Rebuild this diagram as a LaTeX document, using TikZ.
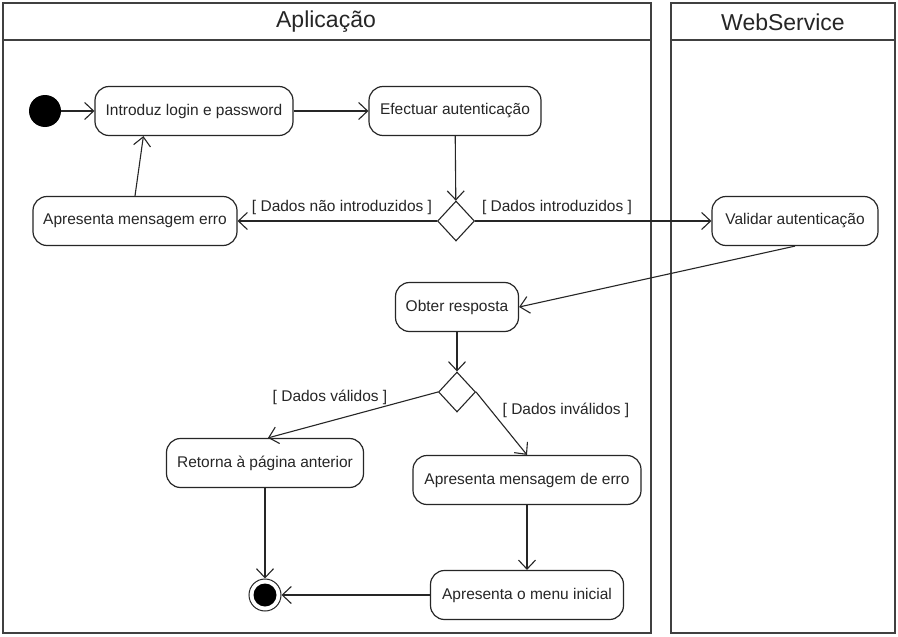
\documentclass[tikz,border=0pt]{standalone}
\usepackage{fontspec}
\setmainfont{Liberation Sans}
\usetikzlibrary{arrows.meta,shapes.geometric,calc}
\begin{document}
\begin{tikzpicture}[x=1pt,y=-1pt,
  lane/.style={draw=black!75, line width=1.6pt},
  lanetitle/.style={font=\fontsize{23}{27}\selectfont, text=black!85},
  act/.style={draw=black!85, rounded corners=14pt, line width=1.2pt, minimum height=49pt, inner sep=0pt, fill=white, font=\fontsize{15.5}{18}\selectfont, text=black!85},
  dec/.style={draw=black!85, diamond, line width=1.1pt, minimum width=37pt, minimum height=40pt, inner sep=0pt, fill=white},
  guard/.style={font=\fontsize{15.5}{18}\selectfont, text=black!85, inner sep=0pt},
  flow/.style={draw=black!85, line width=1.1pt, -{Straight Barb[length=9pt,width=17pt,line width=1.1pt]}}
]
\useasboundingbox (0,0) rectangle (898,637);
\fill[white] (0,0) rectangle (898,637);
% swimlanes
\draw[lane] (3,3) rectangle (651,633);
\draw[lane] (3,40) -- (651,40);
\draw[lane] (671,3) rectangle (895,633);
\draw[lane] (671,40) -- (895,40);
\node[lanetitle] (tapp) at (326,22) {Aplicação};
\node[lanetitle] (tws) at (783,22) {WebService};
% nodes
\node[circle, fill=black, minimum size=32pt, inner sep=0pt] (ini) at (45,111) {};
\node[act, minimum width=198pt] (intro) at (194,111) {Introduz login e password};
\node[act, minimum width=172pt] (efe) at (455,111) {Efectuar autenticação};
\node[dec] (d1) at (456,221) {};
\node[act, minimum width=204pt] (erro1) at (135,221) {Apresenta mensagem erro};
\node[act, minimum width=166pt] (val) at (795,221) {Validar autenticação};
\node[act, minimum width=123pt] (obter) at (457,307) {Obter resposta};
\node[dec] (d2) at (457,392) {};
\node[act, minimum width=197pt] (ret) at (265,463) {Retorna à página anterior};
\node[act, minimum width=228pt] (erro2) at (527,480) {Apresenta mensagem de erro};
\node[act, minimum width=193pt] (menu) at (527,595) {Apresenta o menu inicial};
\node[circle, draw=black!85, line width=1pt, minimum size=32pt, inner sep=0pt] (fin) at (265,595) {};
\fill[black] (fin.center) circle (11.5pt);
% guards
\node[guard] (g1) at (342,207) {[ Dados não introduzidos ]};
\node[guard] (g2) at (557,207) {[ Dados introduzidos ]};
\node[guard] (g3) at (330,397) {[ Dados válidos ]};
\node[guard] (g4) at (566,410) {[ Dados inválidos ]};
% flows
\draw[flow] (ini) -- (intro);
\draw[flow] (intro) -- (efe);
\draw[flow] (efe) -- (d1);
\draw[flow] (d1.west) -- (erro1.east);
\draw[flow] (d1.east) -- (val.west);
\draw[flow] (erro1.north) -- ($(intro.south west)+(49,0)$);
\draw[flow] (val.south) -- (obter.east);
\draw[flow] (obter) -- (d2);
\draw[flow] (d2.west) -- ($(ret.north)+(3,0)$);
\draw[flow] (d2.east) -- (erro2.north);
\draw[flow] (erro2) -- (menu);
\draw[flow] (ret) -- (fin);
\draw[flow] (menu) -- (fin);
\end{tikzpicture}
\end{document}
